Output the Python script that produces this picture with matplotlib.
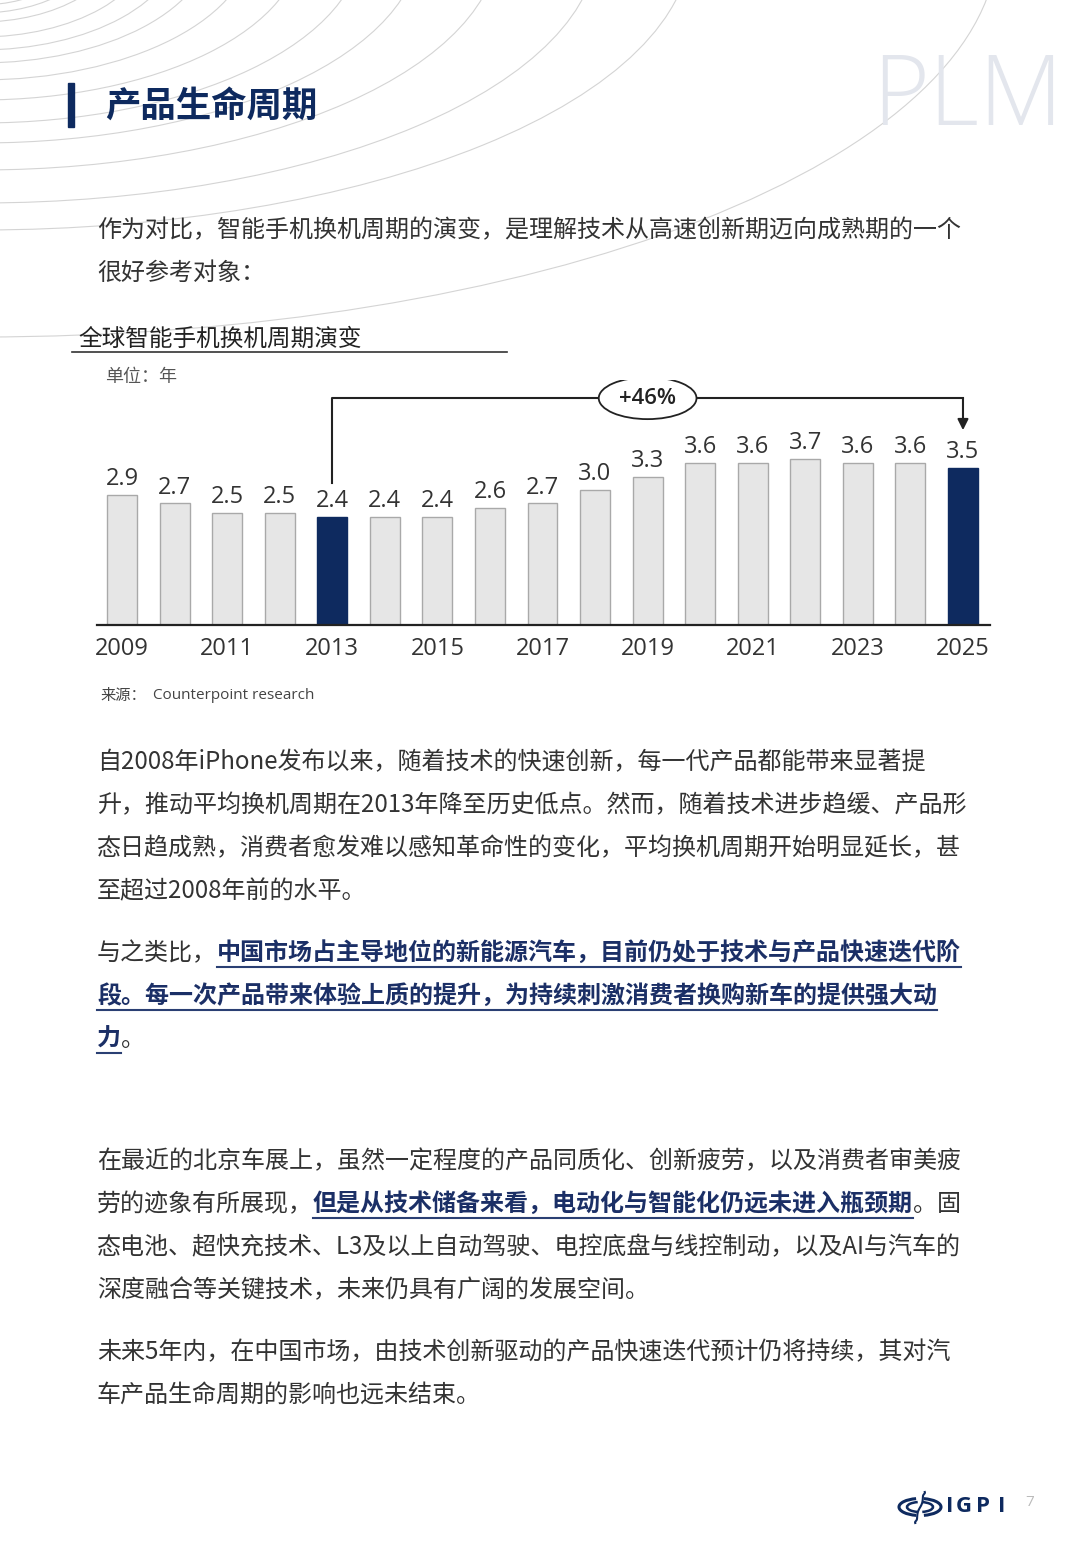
import matplotlib
matplotlib.use('Agg')
import matplotlib.pyplot as plt
from matplotlib.patches import Ellipse, Arc, Rectangle
import numpy as np

plt.rcParams['font.family'] = ['Noto Sans CJK SC', 'DejaVu Sans']

# chart data
years = [2009, 2010, 2011, 2012, 2013, 2014, 2015, 2016, 2017,
         2018, 2019, 2020, 2021, 2022, 2023, 2024, 2025]
cycle = [2.9, 2.7, 2.5, 2.5, 2.4, 2.4, 2.4, 2.6, 2.7,
         3.0, 3.3, 3.6, 3.6, 3.7, 3.6, 3.6, 3.5]
highlight = [2013, 2025]
tick_years = [2009, 2011, 2013, 2015, 2017, 2019, 2021, 2023, 2025]
change_label = '+46%'

chart_title = '全球智能手机换机周期演变'
unit_label = '单位：年'
source_label = 'Counterpoint research'

# body text, as runs of (text, bold)
para1 = [[('作为对比，智能手机换机周期的演变，是理解技术从高速创新期迈向成熟期的一个', 0)],
         [('很好参考对象：', 0)]]
para2 = [[('自2008年iPhone发布以来，随着技术的快速创新，每一代产品都能带来显著提', 0)],
         [('升，推动平均换机周期在2013年降至历史低点。然而，随着技术进步趋缓、产品形', 0)],
         [('态日趋成熟，消费者愈发难以感知革命性的变化，平均换机周期开始明显延长，甚', 0)],
         [('至超过2008年前的水平。', 0)]]
para3 = [[('与之类比，', 0), ('中国市场占主导地位的新能源汽车，目前仍处于技术与产品快速迭代阶', 1)],
         [('段。每一次产品带来体验上质的提升，为持续刺激消费者换购新车的提供强大动', 1)],
         [('力', 1), ('。', 0)]]
para4 = [[('在最近的北京车展上，虽然一定程度的产品同质化、创新疲劳，以及消费者审美疲', 0)],
         [('劳的迹象有所展现，', 0), ('但是从技术储备来看，电动化与智能化仍远未进入瓶颈期', 1), ('。固', 0)],
         [('态电池、超快充技术、L3及以上自动驾驶、电控底盘与线控制动，以及AI与汽车的', 0)],
         [('深度融合等关键技术，未来仍具有广阔的发展空间。', 0)]]
para5 = [[('未来5年内，在中国市场，由技术创新驱动的产品快速迭代预计仍将持续，其对汽', 0)],
         [('车产品生命周期的影响也远未结束。', 0)]]

NAVY = '#0e2a5f'
TEXT = '#333333'
W, H = 1080, 1559

fig = plt.figure(figsize=(W / 100, H / 100), dpi=100)
fig.patch.set_facecolor('white')
page = fig.add_axes([0, 0, 1, 1])
page.set_xlim(0, W)
page.set_ylim(H, 0)
page.axis('off')
rend = fig.canvas.get_renderer()

# background arcs (decoration)
arc_b = [65, 73, 82, 97, 110, 123, 140, 160, 183, 203, 230, 263, 290, 397]
for b, r in zip(arc_b, np.linspace(0.62, 0.39, len(arc_b))):
    page.add_patch(Ellipse((-20, -60), 2 * b / r, 2 * b, fill=False,
                           edgecolor='#d4d4d4', lw=0.8, zorder=0))

page.text(872, 125, 'PLM', family='Open Sans', fontweight=300, fontsize=70,
          color='#e3e6ed', va='baseline', ha='left', zorder=1)

# heading
page.add_patch(Rectangle((68, 83), 6, 44, color=NAVY, zorder=3))
page.text(105, 106, '产品生命周期', fontsize=25.5, fontweight='bold', color=NAVY,
          va='center', ha='left', zorder=3)


def draw_para(lines, y0, step=43, size=17.3):
    y = y0
    for line in lines:
        x = 97
        for txt, bold in line:
            t = page.text(x, y, txt, fontsize=size, va='center', ha='left',
                          color='#1b2f66' if bold else TEXT,
                          fontweight='bold' if bold else 'normal', zorder=3)
            w = t.get_window_extent(renderer=rend).width
            if bold:
                page.plot([x, x + w], [y + 14, y + 14], color='#2a3f73', lw=1.5, zorder=3)
            x += w
        y += step


draw_para(para1, 230)
draw_para(para2, 762)
draw_para(para3, 953)
draw_para(para4, 1161)
draw_para(para5, 1352)

# chart title block
page.text(78, 339, chart_title, fontsize=17, color='#222222', va='center', ha='left', zorder=3)
page.plot([72, 507], [352, 352], color='#333333', lw=1.2, zorder=3)
page.text(105, 377, unit_label, fontsize=13, color='#555555', va='center', ha='left', zorder=3)
page.text(100, 695, '来源：', fontsize=11, color='#444444', va='center', ha='left', zorder=3)
page.text(153, 695, source_label, family='Open Sans', fontsize=11, color='#444444',
          va='center', ha='left', zorder=3)

# bar chart
L, R, B, T = 97, 990, 625, 380
px_per_unit = 45
ax = fig.add_axes([L / W, 1 - B / H, (R - L) / W, (B - T) / H])
ax.patch.set_alpha(0)
ax.set_xlim(years[0] - 0.476, years[-1] + 0.514)
ax.set_ylim(0, (B - T) / px_per_unit)

colors = [NAVY if y in highlight else '#e6e6e6' for y in years]
edges = [NAVY if y in highlight else '#a9a9a9' for y in years]
ax.bar(years, cycle, width=0.57, color=colors, edgecolor=edges, linewidth=1, zorder=2)
for x, v in zip(years, cycle):
    ax.text(x, v + 0.08, f'{v:.1f}', ha='center', va='bottom', family='Open Sans',
            fontsize=17, color=TEXT)

for s in ['top', 'right', 'left']:
    ax.spines[s].set_visible(False)
ax.spines['bottom'].set_linewidth(1.6)
ax.spines['bottom'].set_color('#222222')
ax.spines['bottom'].set_zorder(3)
ax.set_yticks([])
ax.set_xticks(tick_years)
ax.set_xticklabels([str(y) for y in tick_years])
ax.tick_params(axis='x', length=0, pad=8.5, labelsize=17, labelcolor=TEXT)
for lbl in ax.get_xticklabels():
    lbl.set_family('Open Sans')

# +46% bracket
x0, x1 = highlight
v0 = cycle[years.index(x0)]
v1 = cycle[years.index(x1)]
y_top = max(cycle) + 1.34
ax.plot([x0, x0, x1], [v0 + 0.76, y_top, y_top], color='#222222', lw=1.5, zorder=3)
ax.annotate('', xy=(x1, v1 + 0.83), xytext=(x1, y_top),
            arrowprops=dict(arrowstyle='-|>', color='#222222', lw=1.5,
                            mutation_scale=16, shrinkA=0, shrinkB=0), zorder=3)
ax.add_patch(Ellipse(((x0 + x1) / 2, y_top), 1.86, 0.93, facecolor='white',
                     edgecolor='#222222', lw=1.3, zorder=4))
ax.text((x0 + x1) / 2, y_top, change_label, ha='center', va='center', family='Open Sans',
        fontweight='semibold', fontsize=16, color='#222222', zorder=5)

# footer logo
for w_, h_, lw_ in [(42, 17, 2.2), (26, 10, 1.8)]:
    page.add_patch(Arc((920, 1507), w_, h_, theta1=115, theta2=245, color=NAVY, lw=lw_))
    page.add_patch(Arc((920, 1507), w_, h_, theta1=-65, theta2=65, color=NAVY, lw=lw_))
t = np.linspace(0, 1, 40)
page.plot(920 - 3 * np.tanh((t - 0.5) * 6) + 2 * np.exp(-((t - 0.02) / 0.06) ** 2)
          - 2 * np.exp(-((t - 0.98) / 0.06) ** 2), 1492 + 31 * t, color=NAVY, lw=1.5)
for ch, xc in zip('IGPI', [950, 964, 983, 1002]):
    page.text(xc, 1507, ch, family='Open Sans', fontweight='bold', fontsize=16,
              color=NAVY, ha='center', va='center')
page.text(1030, 1503, '7', family='Open Sans', fontsize=11, color='#bbbbbb',
          ha='center', va='center')

fig.savefig('out.png', dpi=100, facecolor='white')
